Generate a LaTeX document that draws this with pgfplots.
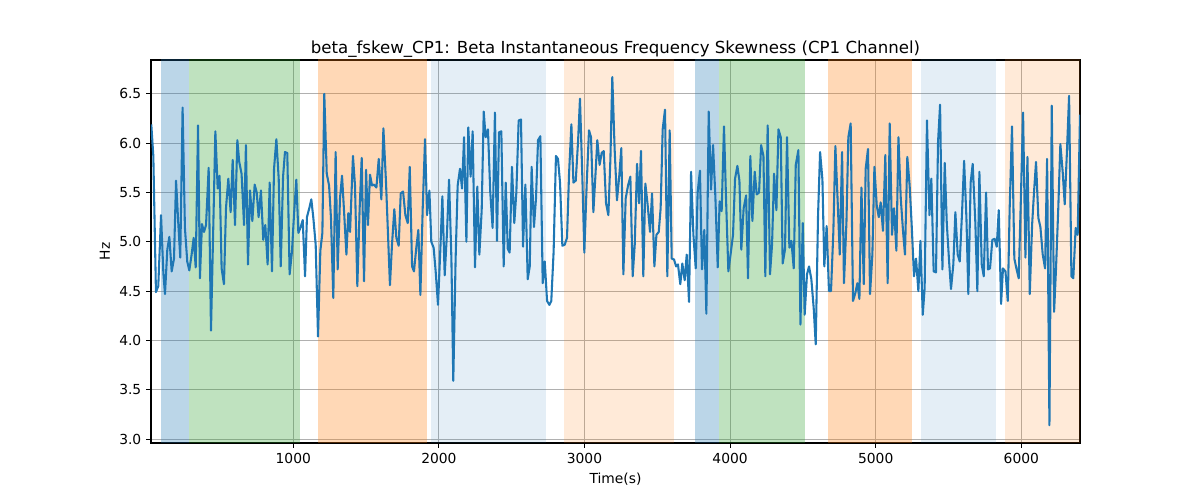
\documentclass[border=0pt]{standalone}
\usepackage{pgfplots}
\pgfplotsset{compat=1.18}
\usepackage{fontspec}
\setmainfont{DejaVu Sans}
\definecolor{tabblue}{RGB}{31,119,180}
\definecolor{taborange}{RGB}{255,127,14}
\definecolor{tabgreen}{RGB}{44,160,44}
\definecolor{gridgray}{RGB}{176,176,176}
\begin{document}
\begin{tikzpicture}
\begin{axis}[
  scale only axis,
  width=9.29in, height=3.83in,
  xmin=23, xmax=6403, ymin=2.96, ymax=6.843,
  xtick={1000,2000,3000,4000,5000,6000},
  ytick={3.0,3.5,4.0,4.5,5.0,5.5,6.0,6.5},
  /pgf/number format/assume math mode=true,
  xticklabel style={/pgf/number format/set thousands separator={}},
  yticklabel style={/pgf/number format/fixed, /pgf/number format/fixed zerofill, /pgf/number format/precision=1},
  tick label style={font=\fontsize{10}{12}\selectfont},
  label style={font=\fontsize{10}{12}\selectfont},
  grid=major,
  grid style={gridgray, line width=0.8pt},
  axis line style={line width=0.8pt},
  tick style={black, line width=0.8pt},
  tick align=outside,
  major tick length=3.5pt,
  xtick pos=lower, ytick pos=left,
  xlabel={Time(s)}, ylabel={Hz},
  title={beta\_fskew\_CP1: Beta Instantaneous Frequency Skewness (CP1 Channel)},
  title style={font=\fontsize{12}{14}\selectfont, yshift=-7.5pt},
  clip=true,
]
% shaded spans
\addplot[draw=none, fill=tabblue, fill opacity=0.3, forget plot] coordinates {(92,2) (282,2) (282,8) (92,8)} --cycle;
\addplot[draw=none, fill=tabgreen, fill opacity=0.3, forget plot] coordinates {(282,2) (1044,2) (1044,8) (282,8)} --cycle;
\addplot[draw=none, fill=taborange, fill opacity=0.3, forget plot] coordinates {(1170,2) (1916,2) (1916,8) (1170,8)} --cycle;
\addplot[draw=none, fill=tabblue, fill opacity=0.12, forget plot] coordinates {(1944,2) (2734,2) (2734,8) (1944,8)} --cycle;
\addplot[draw=none, fill=taborange, fill opacity=0.16, forget plot] coordinates {(2859,2) (3613,2) (3613,8) (2859,8)} --cycle;
\addplot[draw=none, fill=tabblue, fill opacity=0.3, forget plot] coordinates {(3759,2) (3926,2) (3926,8) (3759,8)} --cycle;
\addplot[draw=none, fill=tabgreen, fill opacity=0.3, forget plot] coordinates {(3926,2) (4513,2) (4513,8) (3926,8)} --cycle;
\addplot[draw=none, fill=taborange, fill opacity=0.3, forget plot] coordinates {(4673,2) (5247,2) (5247,8) (4673,8)} --cycle;
\addplot[draw=none, fill=tabblue, fill opacity=0.12, forget plot] coordinates {(5311,2) (5826,2) (5826,8) (5311,8)} --cycle;
\addplot[draw=none, fill=taborange, fill opacity=0.16, forget plot] coordinates {(5888,2) (6500,2) (6500,8) (5888,8)} --cycle;
\addplot[tabblue, line width=1.5pt, line join=round, mark=none] table {
x y
25 6.19
39 5.87
57 4.49
73 4.55
92 5.27
108 4.68
119 4.47
135 4.92
149 5.05
165 4.70
181 4.83
195 5.62
211 5.17
224 4.84
240 6.36
256 5.14
272 4.80
286 4.71
302 4.87
316 5.04
330 4.74
346 6.18
359 4.63
373 5.18
387 5.10
401 5.17
419 5.75
435 4.10
451 5.17
465 6.12
481 5.54
494 5.67
508 4.73
524 4.57
538 5.34
554 5.64
570 5.30
584 5.83
600 5.17
616 6.03
629 5.81
645 5.69
662 5.17
675 5.98
689 4.77
703 5.52
719 5.21
735 5.58
749 5.50
762 5.25
778 5.52
794 5.02
808 5.17
824 4.77
838 5.60
854 4.70
868 5.74
884 6.04
900 5.64
914 4.75
930 5.66
943 5.91
959 5.90
975 4.67
991 4.90
1005 5.27
1021 5.63
1035 5.09
1049 5.14
1065 5.22
1081 4.65
1094 5.25
1110 5.34
1124 5.43
1138 5.24
1154 4.97
1170 4.04
1186 4.91
1200 5.09
1213 6.50
1230 5.69
1246 5.57
1259 5.24
1275 4.43
1291 5.91
1305 4.72
1321 5.44
1335 5.67
1351 5.25
1365 4.87
1378 5.29
1390 5.10
1410 5.87
1424 5.57
1440 4.55
1456 5.34
1470 5.85
1486 4.60
1500 5.73
1513 5.17
1527 5.68
1541 5.57
1554 5.58
1571 5.55
1587 5.84
1605 5.43
1619 6.15
1637 5.60
1664 4.56
1678 4.97
1694 5.33
1708 5.04
1724 4.96
1738 5.49
1754 5.51
1770 5.27
1786 5.19
1800 5.76
1816 4.75
1829 4.70
1845 4.94
1859 5.12
1873 4.46
1889 5.34
1905 6.04
1919 5.27
1935 5.52
1948 5.00
1964 4.94
1978 4.70
1994 4.36
2010 4.92
2024 5.46
2040 4.66
2056 5.10
2070 5.63
2086 4.83
2099 3.59
2115 4.83
2129 5.57
2145 5.74
2159 5.54
2173 6.06
2189 5.00
2202 6.16
2218 5.66
2232 6.12
2248 4.74
2264 5.56
2278 4.87
2294 5.32
2308 6.32
2321 6.06
2337 6.14
2353 5.50
2369 5.14
2385 6.31
2399 5.01
2413 6.11
2429 6.12
2445 4.75
2459 5.60
2473 4.93
2486 4.89
2502 5.76
2518 5.19
2532 5.50
2548 6.23
2564 6.24
2578 4.95
2594 5.58
2610 4.62
2624 4.75
2637 5.76
2653 5.15
2667 5.44
2681 6.03
2697 6.07
2713 4.58
2727 4.80
2743 4.40
2759 4.36
2772 4.40
2788 4.90
2804 5.87
2818 5.84
2832 5.60
2848 4.96
2864 4.97
2880 5.04
2894 5.69
2910 6.19
2924 5.60
2940 5.62
2956 6.02
2969 6.45
2985 5.67
2999 4.89
3015 5.58
3031 6.13
3045 6.06
3061 5.30
3075 5.67
3088 6.03
3104 5.78
3118 5.90
3132 5.92
3148 5.39
3164 5.27
3178 5.84
3191 6.67
3207 5.94
3223 5.42
3239 5.67
3253 5.95
3267 4.67
3283 5.44
3299 5.57
3315 5.66
3331 4.65
3345 4.97
3361 5.79
3375 5.39
3388 5.92
3404 4.65
3418 5.59
3434 5.37
3450 5.10
3464 5.49
3480 4.75
3494 5.07
3510 5.10
3523 5.34
3537 6.14
3553 6.34
3569 4.65
3585 6.13
3599 4.83
3615 4.82
3629 4.75
3642 4.77
3658 4.57
3672 4.78
3688 4.61
3702 4.87
3718 4.39
3732 5.71
3748 5.07
3764 4.73
3777 5.50
3793 5.72
3807 4.72
3823 5.12
3837 4.27
3853 6.32
3869 5.53
3883 5.98
3899 5.45
3915 4.74
3928 5.41
3942 5.31
3958 6.17
3972 5.44
3988 4.70
4004 4.88
4020 5.07
4034 5.64
4050 5.77
4064 5.62
4077 4.92
4093 5.34
4110 5.47
4123 4.63
4139 5.87
4153 5.21
4169 5.71
4183 5.48
4199 5.50
4213 5.98
4229 5.87
4242 4.65
4258 6.18
4274 4.67
4288 4.97
4302 5.69
4318 5.32
4332 6.14
4348 6.06
4361 4.78
4377 4.92
4391 6.06
4407 4.94
4421 5.01
4437 4.73
4451 5.78
4469 5.93
4483 4.16
4499 5.19
4512 4.26
4528 4.67
4542 4.75
4558 4.62
4574 4.33
4588 3.96
4604 5.27
4618 5.91
4634 5.63
4647 4.75
4663 5.16
4679 4.50
4693 4.50
4709 5.10
4723 5.97
4739 5.40
4753 4.87
4769 5.91
4782 4.58
4799 5.20
4812 6.06
4828 6.20
4844 4.40
4860 4.48
4874 4.58
4888 4.42
4902 5.55
4918 4.57
4931 5.74
4947 5.94
4961 4.47
4977 4.87
4991 5.76
5007 5.37
5021 5.25
5034 5.40
5050 5.11
5066 5.88
5082 4.58
5096 6.20
5112 5.07
5126 5.34
5142 4.91
5156 6.06
5172 5.44
5188 5.10
5201 4.87
5217 5.86
5233 5.57
5247 5.17
5263 4.65
5277 4.83
5293 4.50
5307 5.01
5323 4.26
5336 4.53
5352 6.23
5369 5.27
5382 5.64
5398 4.70
5414 4.69
5428 6.01
5442 6.39
5458 4.72
5474 5.80
5488 5.19
5504 4.80
5517 4.52
5533 4.77
5547 5.30
5563 4.87
5577 4.80
5593 5.30
5607 5.82
5623 5.24
5636 4.47
5652 5.60
5666 5.79
5684 5.20
5698 4.50
5712 5.71
5728 4.77
5742 4.65
5758 5.50
5771 4.72
5785 4.73
5801 5.02
5817 5.03
5831 4.95
5845 5.32
5861 4.37
5874 4.73
5891 4.70
5907 4.40
5920 5.34
5936 6.17
5952 4.83
5966 4.73
5982 4.63
5998 5.50
6012 6.31
6028 4.84
6042 5.86
6058 4.47
6074 5.17
6087 5.50
6101 5.81
6117 5.24
6131 5.15
6147 4.87
6163 4.73
6177 5.84
6193 3.14
6209 6.38
6225 4.29
6238 4.72
6254 5.35
6268 5.99
6284 5.71
6298 5.38
6312 5.87
6328 6.48
6344 4.65
6357 4.63
6373 5.14
6387 5.07
6403 6.29
};
\end{axis}
\path (current axis.south west) ++(-1.51in,-0.57in) rectangle ++(12in,5in);
\end{tikzpicture}
\end{document}
